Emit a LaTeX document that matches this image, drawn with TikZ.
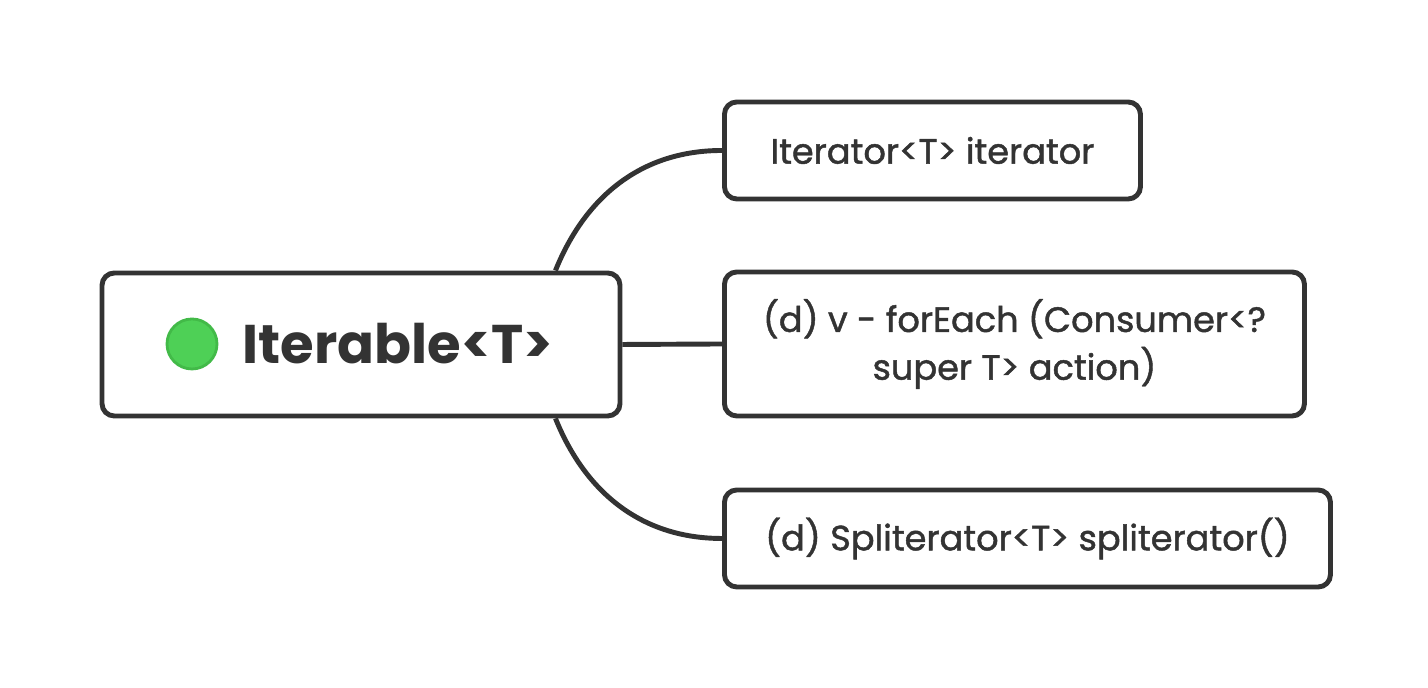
\documentclass[tikz,border=0pt]{standalone}
\usepackage{fontspec}
\setmainfont{Poppins}
\newfontfamily\medfont[FakeBold=1.3]{Poppins}
\usepackage{tikz}
\usetikzlibrary{positioning,calc}
\definecolor{linegray}{RGB}{51,51,51}
\definecolor{dotgreen}{RGB}{78,208,86}
\definecolor{dotedge}{RGB}{66,186,72}
\tikzset{
  topic/.style={draw=linegray,line width=1.4pt,rounded corners=3.5pt,fill=white,
    minimum width=5.18cm,minimum height=1.43cm,text=linegray,font=\fontsize{15.5}{18}\selectfont\bfseries},
  sub/.style={draw=linegray,line width=1.4pt,rounded corners=3.5pt,fill=white,
    minimum height=0.97cm,text=linegray,align=center,font=\medfont\fontsize{10}{13.6}\selectfont},
  branch/.style={draw=linegray,line width=1.4pt}
}

\begin{document}
\begin{tikzpicture}[x=1cm,y=1cm]
\useasboundingbox (0,0) rectangle (14.28,6.88);
\node[topic] (root) at (3.61,3.435) {};
\node[circle,fill=dotgreen,draw=dotedge,line width=0.8pt,minimum size=0.5cm,inner sep=0pt] (dot) at (1.92,3.44) {};
\node[text=linegray,font=\fontsize{15.5}{18}\selectfont\bfseries,anchor=west,inner sep=0pt] (rootlabel) at (2.42,3.44) {Iterable<T>};
\node[sub,minimum width=4.16cm,anchor=west] (iter) at (7.22,5.375) {Iterator<T> iterator};
\node[sub,minimum width=5.80cm,minimum height=1.44cm,anchor=west] (each) at (7.22,3.44) {(d) v - forEach (Consumer<?\\super T> action)};
\node[sub,minimum width=6.06cm,anchor=west] (split) at (7.22,1.495) {(d) Spliterator<T> spliterator()};
\coordinate (rtop) at ($(root.north east)+(-0.67,0)$);
\coordinate (rbot) at ($(root.south east)+(-0.67,0)$);
\draw[branch] (rtop) to[out=68,in=180] (iter.west);
\draw[branch] (root.east) -- (each.west);
\draw[branch] (rbot) to[out=-68,in=180] (split.west);
\end{tikzpicture}
\end{document}
